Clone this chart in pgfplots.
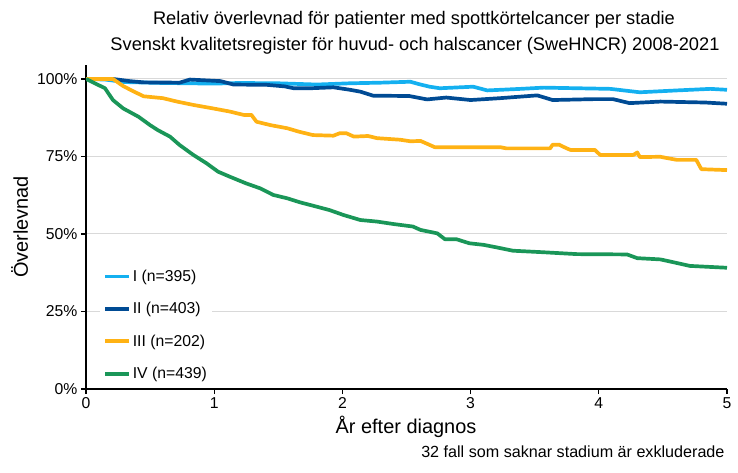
\documentclass[border=0pt]{standalone}
\usepackage{pgfplots}
\pgfplotsset{compat=1.18}
\usepackage{fontspec}
\setmainfont{Liberation Sans}

\definecolor{stageI}{RGB}{20,176,240}
\definecolor{stageII}{RGB}{0,75,148}
\definecolor{stageIII}{RGB}{255,178,20}
\definecolor{stageIV}{RGB}{26,150,88}
\definecolor{gridgray}{RGB}{217,217,217}

\begin{document}
\begin{tikzpicture}
\useasboundingbox (-86bp,-84bp) rectangle (652bp,389bp);
\begin{axis}[
  at={(0,0)}, anchor=south west,
  scale only axis, width=641bp, height=324bp,
  xmin=0, xmax=5, ymin=0, ymax=104.5,
  axis lines=left,
  axis line style={-, line width=1.3bp, black},
  xtick={0,1,2,3,4,5},
  ytick={0,25,50,75,100},
  yticklabel={\pgfmathprintnumber{\tick}\%},
  /pgf/number format/assume math mode=true,
  tick align=outside, major tick length=5bp,
  tick style={black, line width=1.3bp},
  ymajorgrids, grid style={line width=1bp, gridgray},
  tick label style={font=\fontsize{15.8}{18}\selectfont},
  legend style={at={(axis cs:0.109,40.7)}, anchor=north west,
    draw=none, fill=white, inner xsep=3bp, inner ysep=4bp,
    font=\fontsize{15.8}{18}\selectfont, row sep=13.4bp,
    nodes={inner sep=2bp, text height=12.5bp, text depth=2.5bp}},
  legend cell align=left,
  legend image code/.code={\draw[#1] (0bp,0bp) -- (24bp,0bp);},
  every axis plot/.append style={line width=3.7bp, line join=round},
]
% stadium I
\addplot[stageI] coordinates {
 (0,100) (0.15,99.8) (0.3,99.0) (0.6,98.7) (1.0,98.5) (1.2,98.7) (1.5,98.6)
 (1.8,98.2) (2.06,98.6) (2.3,98.8) (2.53,99.1) (2.6,98.3) (2.68,97.5) (2.76,97.0)
 (3.02,97.5) (3.13,96.3) (3.39,96.8) (3.57,97.2) (4.09,96.8) (4.32,95.7)
 (4.61,96.3) (4.87,96.8) (5.0,96.5)
};
\addlegendentry{I (n=395)}
% stadium II
\addplot[stageII] coordinates {
 (0,100) (0.21,100) (0.34,99.3) (0.45,98.9) (0.73,98.8) (0.81,99.8) (1.05,99.3)
 (1.15,98.2) (1.41,98.1) (1.55,97.6) (1.62,97.0) (1.75,97.0) (1.93,97.3)
 (2.06,96.5) (2.14,95.9) (2.24,94.6) (2.52,94.5) (2.61,93.8) (2.66,93.4)
 (2.81,94.0) (3.0,93.2) (3.23,93.8) (3.39,94.3) (3.52,94.7) (3.64,93.2)
 (3.97,93.5) (4.11,93.5) (4.24,92.2) (4.48,92.7) (4.83,92.4) (5.0,92.0)
};
\addlegendentry{II (n=403)}
% stadium III
\addplot[stageIII] coordinates {
 (0,100) (0.21,100) (0.29,97.7) (0.37,96.0) (0.45,94.4) (0.60,93.8) (0.71,92.7)
 (0.84,91.6) (0.99,90.5) (1.12,89.5) (1.23,88.4) (1.29,88.4) (1.33,86.2)
 (1.44,85.1) (1.57,84.1) (1.66,83.0) (1.77,81.9) (1.93,81.7) (1.98,82.5)
 (2.03,82.5) (2.09,81.4) (2.20,81.6) (2.27,80.9) (2.45,80.4) (2.53,79.9)
 (2.61,80.0) (2.66,79.1) (2.72,78.0) (3.23,78.0) (3.28,77.6) (3.62,77.6)
 (3.64,78.8) (3.69,78.8) (3.75,77.6) (3.78,77.1) (3.97,77.1) (4.01,75.5)
 (4.27,75.5) (4.30,76.3) (4.32,74.8) (4.48,74.9) (4.53,74.5) (4.61,73.9)
 (4.76,73.9) (4.80,70.9) (5.0,70.6)
};
\addlegendentry{III (n=202)}
% stadium IV
\addplot[stageIV] coordinates {
 (0,100) (0.148,97.0) (0.21,93.2) (0.29,90.5) (0.41,87.8) (0.50,85.1)
 (0.56,83.5) (0.655,81.4) (0.73,78.7) (0.837,75.5) (0.94,72.8) (1.03,70.1)
 (1.12,68.5) (1.25,66.3) (1.36,64.7) (1.46,62.6) (1.57,61.5) (1.67,60.2)
 (1.80,58.8) (1.90,57.7) (2.01,56.1) (2.14,54.5) (2.27,54.0) (2.40,53.2)
 (2.55,52.4) (2.61,51.3) (2.74,50.2) (2.80,48.3) (2.89,48.3) (2.99,47.0)
 (3.10,46.5) (3.20,45.7) (3.33,44.6) (3.57,44.1) (3.83,43.5) (4.22,43.4)
 (4.30,42.2) (4.48,41.8) (4.58,40.9) (4.71,39.7) (5.0,39.1)
};
\addlegendentry{IV (n=439)}
\end{axis}
\node[anchor=base, font=\fontsize{18.3}{22}\selectfont] at (328bp,364bp)
  {Relativ överlevnad för patienter med spottkörtelcancer per stadie};
\node[anchor=base, font=\fontsize{18.3}{22}\selectfont] at (329bp,338bp)
  {Svenskt kvalitetsregister för huvud- och halscancer (SweHNCR) 2008-2021};
\node[anchor=base, font=\fontsize{20}{24}\selectfont] at (320bp,-44bp)
  {År efter diagnos};
\node[anchor=base, rotate=90, font=\fontsize{20}{24}\selectfont] at (-58bp,162bp)
  {Överlevnad};
\node[anchor=base east, font=\fontsize{16.2}{19}\selectfont] at (642bp,-68bp)
  {32 fall som saknar stadium är exkluderade};
\end{tikzpicture}
\end{document}
